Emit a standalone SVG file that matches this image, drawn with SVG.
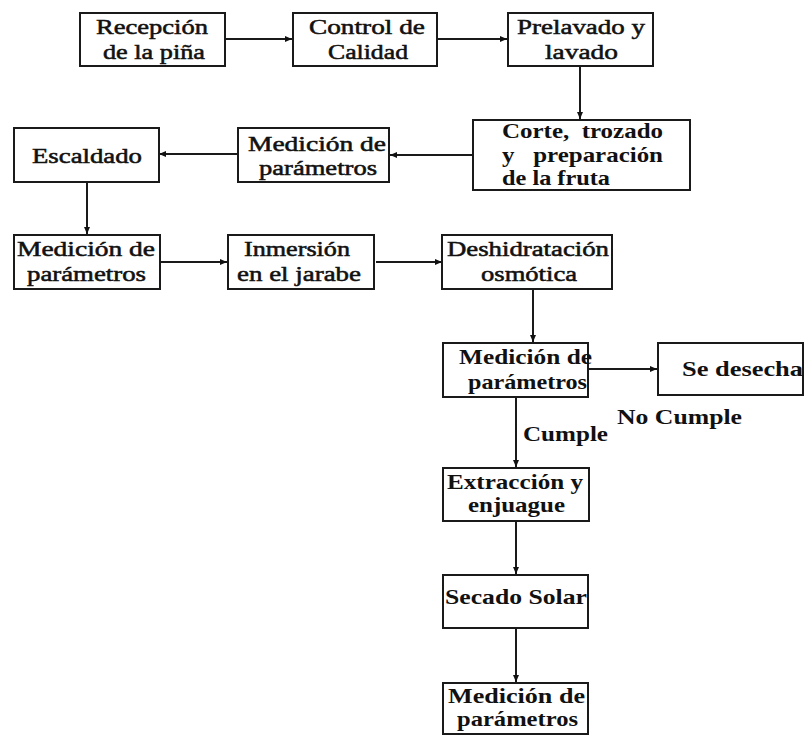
<svg xmlns="http://www.w3.org/2000/svg" width="810" height="736" viewBox="0 0 810 736">
<style>
.box{fill:#fff;stroke:#1a1a1a;stroke-width:2}
.t{font-family:'Liberation Serif','Times New Roman',Times,serif;font-size:22px;fill:#111;white-space:pre}
.b{font-weight:bold}
.r{font-weight:normal;stroke:#111;stroke-width:0.55}
.c line{stroke:#1a1a1a;stroke-width:2;marker-end:url(#ah)}
</style>
<defs>
<marker id="ah" markerWidth="8" markerHeight="8" refX="7" refY="4" orient="auto" markerUnits="userSpaceOnUse">
<path d="M0,1 L7,4 L0,7 Z" fill="#111"/>
</marker>
</defs>
<rect width="810" height="736" fill="#fff"/>
<g id="connectors" class="c">
<line x1="225" y1="39" x2="292" y2="39"/>
<line x1="437" y1="39" x2="507" y2="39"/>
<line x1="580" y1="66" x2="580" y2="119"/>
<line x1="473" y1="155" x2="390" y2="155"/>
<line x1="238" y1="154" x2="159" y2="154"/>
<line x1="87" y1="182" x2="87" y2="234"/>
<line x1="160" y1="262" x2="227" y2="262"/>
<line x1="376" y1="262" x2="442" y2="262"/>
<line x1="533" y1="289" x2="533" y2="342"/>
<line x1="588" y1="369" x2="657" y2="369"/>
<line x1="516" y1="397" x2="516" y2="467"/>
<line x1="516" y1="521" x2="516" y2="574"/>
<line x1="516" y1="628" x2="516" y2="682"/>
</g>
<g id="n1"><rect class="box" x="80" y="13" width="145" height="53"/>
<text class="t r" x="96" y="34" textLength="112" lengthAdjust="spacingAndGlyphs">Recepción</text>
<text class="t r" x="103" y="59" textLength="102" lengthAdjust="spacingAndGlyphs">de la piña</text></g>
<g id="n2"><rect class="box" x="293" y="13" width="144" height="53"/>
<text class="t r" x="309" y="34" textLength="116" lengthAdjust="spacingAndGlyphs">Control de</text>
<text class="t r" x="328" y="59" textLength="80" lengthAdjust="spacingAndGlyphs">Calidad</text></g>
<g id="n3"><rect class="box" x="508" y="13" width="145" height="53"/>
<text class="t r" x="517" y="34" textLength="128" lengthAdjust="spacingAndGlyphs">Prelavado y</text>
<text class="t r" x="545" y="59" textLength="73" lengthAdjust="spacingAndGlyphs">lavado</text></g>
<g id="n4"><rect class="box" x="473" y="120" width="217" height="70"/>
<text class="t b" x="502" y="138" textLength="161" lengthAdjust="spacingAndGlyphs">Corte,  trozado</text>
<text class="t b" x="502" y="162" textLength="161" lengthAdjust="spacingAndGlyphs">y   preparación</text>
<text class="t b" x="502" y="185" textLength="108" lengthAdjust="spacingAndGlyphs">de la fruta</text></g>
<g id="n5"><rect class="box" x="238" y="128" width="151" height="54"/>
<text class="t r" x="248" y="151" textLength="138" lengthAdjust="spacingAndGlyphs">Medición de</text>
<text class="t r" x="259" y="175" textLength="118" lengthAdjust="spacingAndGlyphs">parámetros</text></g>
<g id="n6"><rect class="box" x="14" y="128" width="145" height="54"/>
<text class="t r" x="32" y="163" textLength="110" lengthAdjust="spacingAndGlyphs">Escaldado</text></g>
<g id="n7"><rect class="box" x="14" y="235" width="146" height="54"/>
<text class="t r" x="17" y="256" textLength="138" lengthAdjust="spacingAndGlyphs">Medición de</text>
<text class="t r" x="27" y="281" textLength="119" lengthAdjust="spacingAndGlyphs">parámetros</text></g>
<g id="n8"><rect class="box" x="228" y="235" width="146" height="54"/>
<text class="t r" x="244" y="256" textLength="106" lengthAdjust="spacingAndGlyphs">Inmersión</text>
<text class="t r" x="237" y="281" textLength="124" lengthAdjust="spacingAndGlyphs">en el jarabe</text></g>
<g id="n9"><rect class="box" x="442" y="235" width="170" height="54"/>
<text class="t r" x="447" y="256" textLength="162" lengthAdjust="spacingAndGlyphs">Deshidratación</text>
<text class="t r" x="481" y="281" textLength="96" lengthAdjust="spacingAndGlyphs">osmótica</text></g>
<g id="n10"><rect class="box" x="443" y="343" width="145" height="54"/>
<text class="t b" x="459" y="364" textLength="133" lengthAdjust="spacingAndGlyphs">Medición de</text>
<text class="t b" x="468" y="389" textLength="119" lengthAdjust="spacingAndGlyphs">parámetros</text></g>
<g id="n11"><rect class="box" x="658" y="343" width="145" height="52"/>
<text class="t b" x="682" y="376" textLength="121" lengthAdjust="spacingAndGlyphs">Se desecha</text></g>
<g id="labels">
<text class="t b" x="617" y="424" textLength="125" lengthAdjust="spacingAndGlyphs">No Cumple</text>
<text class="t b" x="523" y="441" textLength="85" lengthAdjust="spacingAndGlyphs">Cumple</text>
</g>
<g id="n12"><rect class="box" x="443" y="468" width="146" height="53"/>
<text class="t b" x="447" y="489" textLength="136" lengthAdjust="spacingAndGlyphs">Extracción y</text>
<text class="t b" x="468" y="512" textLength="97" lengthAdjust="spacingAndGlyphs">enjuague</text></g>
<g id="n13"><rect class="box" x="443" y="575" width="145" height="53"/>
<text class="t b" x="445" y="604" textLength="142" lengthAdjust="spacingAndGlyphs">Secado Solar</text></g>
<g id="n14"><rect class="box" x="443" y="683" width="145" height="51"/>
<text class="t b" x="448" y="703" textLength="137" lengthAdjust="spacingAndGlyphs">Medición de</text>
<text class="t b" x="457" y="726" textLength="121" lengthAdjust="spacingAndGlyphs">parámetros</text></g>
</svg>
